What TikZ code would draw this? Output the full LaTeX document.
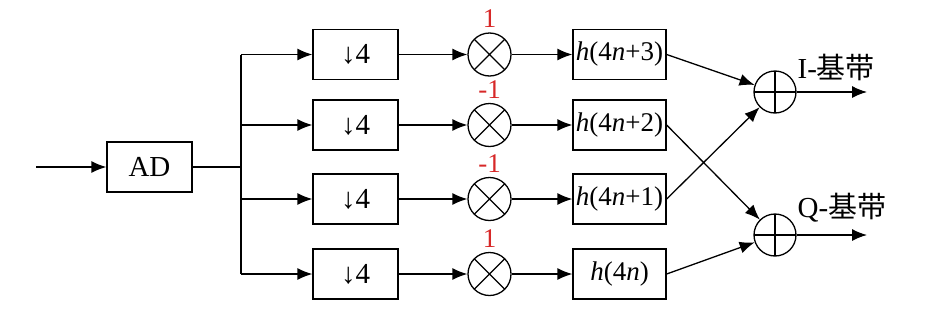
\documentclass[tikz,border=0pt]{standalone}
\usepackage{fontspec}
\setmainfont{Liberation Serif}
\newfontfamily\cjk{Noto Sans CJK SC}
\usetikzlibrary{arrows.meta,positioning,calc}
\definecolor{coefred}{RGB}{215,40,40}

\begin{document}
\begin{tikzpicture}[x=0.5pt, y=-0.5pt, line width=0.65pt,
  every node/.style={font=\fontsize{14.5}{17}\selectfont},
  blk/.style={draw=black, rectangle, minimum width=42.5pt,
    minimum height=25pt, inner sep=1pt},
  hblk/.style={blk, minimum width=46.5pt, font=\fontsize{13.5}{15}\selectfont},
  mul/.style={draw=black, circle, minimum size=21.5pt, inner sep=0pt,
    path picture={\draw (path picture bounding box.north west) -- (path picture bounding box.south east)
      (path picture bounding box.north east) -- (path picture bounding box.south west);}},
  summ/.style={draw=black, circle, minimum size=21pt, inner sep=0pt,
    path picture={\draw (path picture bounding box.north) -- (path picture bounding box.south)
      (path picture bounding box.west) -- (path picture bounding box.east);}},
  arr/.style={-{Latex[length=7.5pt, width=6pt]}},
  coef/.style={text=coefred, inner sep=0pt, font=\fontsize{13.5}{15}\selectfont},
  outl/.style={anchor=west, inner sep=0pt},
]
\useasboundingbox (0,0) rectangle (951,311);

%==================== INPUT + AD ====================
\coordinate (in) at (36,167);
\node[blk] (ad) at (149.5,167) {AD};
\coordinate (bus) at (241,167);

%==================== DECIMATION ====================
\node[blk] (d1) at (355.5,54.5) {↓4};
\node[blk] (d2) at (355.5,125)  {↓4};
\node[blk] (d3) at (355.5,199)  {↓4};
\node[blk] (d4) at (355.5,274)  {↓4};

%==================== MIXERS ====================
\node[mul] (m1) at (489.5,54.5) {};
\node[mul] (m2) at (489.5,125)  {};
\node[mul] (m3) at (489.5,199)  {};
\node[mul] (m4) at (489.5,274)  {};
\node[coef, above=2pt of m1] (c1) {1};
\node[coef, above=2pt of m2] (c2) {-1};
\node[coef, above=2pt of m3] (c3) {-1};
\node[coef, above=2pt of m4] (c4) {1};

%==================== POLYPHASE FILTERS ====================
\node[hblk] (h1) at (619.5,54.5) {\textit{h}(4\textit{n}+3)};
\node[hblk] (h2) at (619.5,125)  {\textit{h}(4\textit{n}+2)};
\node[hblk] (h3) at (619.5,199)  {\textit{h}(4\textit{n}+1)};
\node[hblk] (h4) at (619.5,274)  {\textit{h}(4\textit{n})};

%==================== SUMS ====================
\node[summ] (sI) at (775,92)  {};
\node[summ] (sQ) at (775,235) {};
\coordinate (oI) at (867,92);
\coordinate (oQ) at (867,235);
\node[outl] (lI) at (797,67)  {I-{\cjk 基带}};
\node[outl] (lQ) at (797,208) {Q-{\cjk 基带}};

%==================== CONNECTIONS ====================
\draw[arr] (in) -- (ad.west);
\draw (ad.east) -- (bus);
\draw (bus |- d1.west) -- (bus |- d4.west);
\draw[arr] (bus |- d1.west) -- (d1.west);
\draw[arr] (bus |- d2.west) -- (d2.west);
\draw[arr] (bus |- d3.west) -- (d3.west);
\draw[arr] (bus |- d4.west) -- (d4.west);

\draw[arr] (d1.east) -- (m1.west);
\draw[arr] (d2.east) -- (m2.west);
\draw[arr] (d3.east) -- (m3.west);
\draw[arr] (d4.east) -- (m4.west);

\draw[arr] (m1.east) -- (h1.west);
\draw[arr] (m2.east) -- (h2.west);
\draw[arr] (m3.east) -- (h3.west);
\draw[arr] (m4.east) -- (h4.west);

% cross-over into the I and Q branches
\draw[arr] (h1.east) -- (sI);
\draw[arr] (h2.east) -- (sQ);
\draw[arr] (h3.east) -- (sI);
\draw[arr] (h4.east) -- (sQ);

\draw[arr] (sI.east) -- (oI);
\draw[arr] (sQ.east) -- (oQ);

\end{tikzpicture}
\end{document}
